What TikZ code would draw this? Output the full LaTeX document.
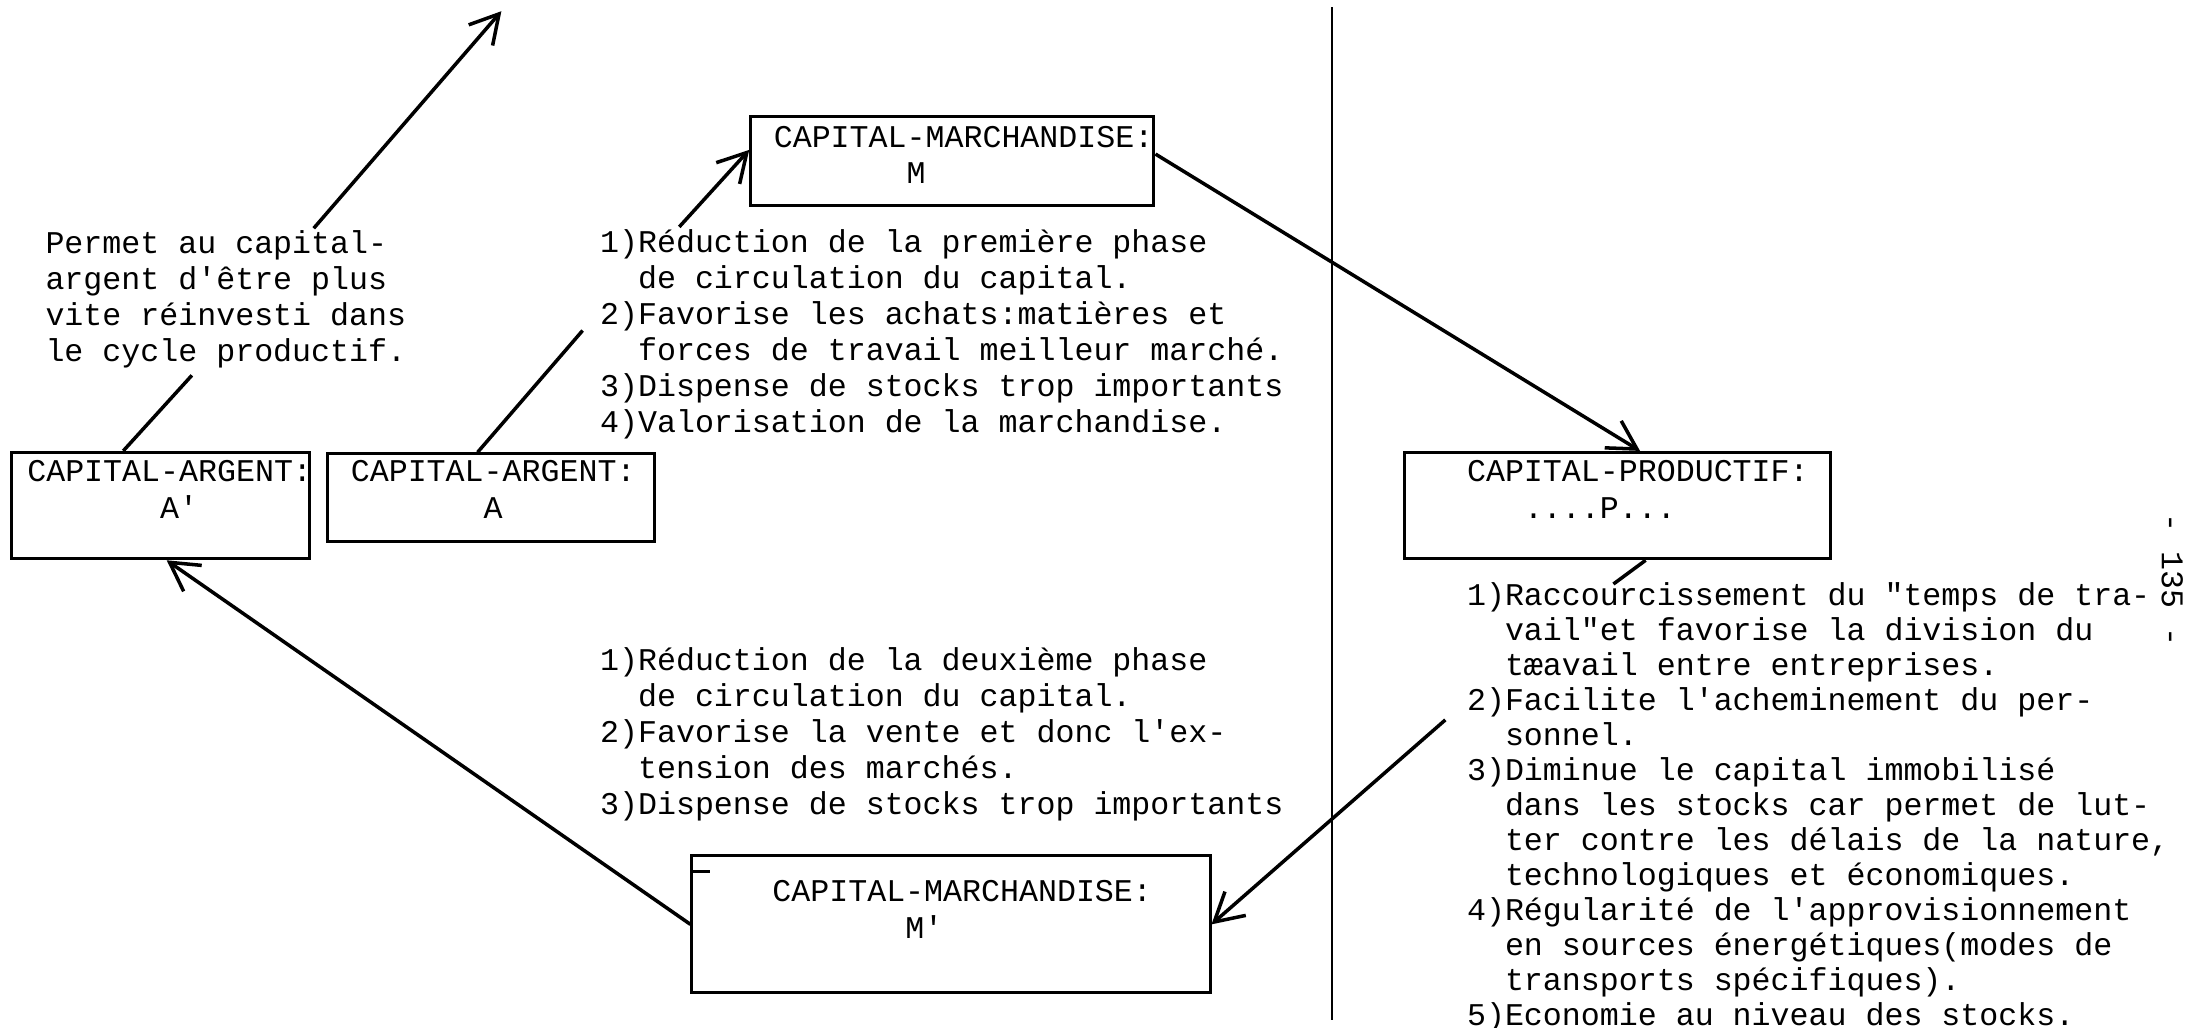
\documentclass[tikz,border=0pt]{standalone}
\usepackage{fontspec}
\setmonofont{Liberation Mono}
\usetikzlibrary{arrows.meta,calc}
\newcommand\blk[1]{\begin{tabular}[t]{@{}l@{}}#1\end{tabular}}
\newcommand\ind{\hphantom{1)}}
\begin{document}
\begin{tikzpicture}[x=0.014005cm,y=-0.014005cm,
  bx/.style={draw,line width=0.85pt,inner sep=0pt},
  txt/.style={inner sep=0pt,anchor=base west,font=\ttfamily\fontsize{9}{10.24}\selectfont},
  txtr/.style={inner sep=0pt,anchor=base west,font=\ttfamily\fontsize{9}{9.98}\selectfont},
  lbl/.style={inner sep=0pt,anchor=base west,font=\ttfamily\fontsize{9}{10.4}\selectfont},
  conn/.style={line width=1pt},
  arr/.style={conn,-{Straight Barb[length=8pt,width=9pt,line width=1pt]}},
]
\useasboundingbox (0,0) rectangle (1568,734);

% boxes
\node[bx,minimum width=2.983cm,minimum height=1.064cm] (Ap) at (114.5,361) {};
\node[bx,minimum width=3.263cm,minimum height=0.882cm] (A) at (350.5,355.5) {};
\node[bx,minimum width=4.033cm,minimum height=0.896cm] (M) at (680,115) {};
\node[bx,minimum width=4.258cm,minimum height=1.064cm] (P) at (1155,361) {};
\node[bx,minimum width=5.182cm,minimum height=1.372cm] (Mp) at (679,660) {};

% box labels
\node[lbl] (Apt) at (19,344) {\blk{CAPITAL-ARGENT:\\\hphantom{0000000}A'}};
\node[lbl] (At) at (250,344) {\blk{CAPITAL-ARGENT:\\\hphantom{0000000}A}};
\node[lbl] (Mt) at (552,105) {\blk{CAPITAL-MARCHANDISE:\\\hphantom{0000000}M}};
\node[lbl] (Pt) at (1047,344) {\blk{CAPITAL-PRODUCTIF:\\\hphantom{000}....P...}};
\node[lbl] (Mpt) at (551,644) {\blk{CAPITAL-MARCHANDISE:\\\hphantom{0000000}M'}};

% text blocks
\node[txt] (perm) at (32,181) {\blk{Permet au capital-\\argent d'être plus\\vite réinvesti dans\\le cycle productif.}};
\node[txt] (up) at (428,180) {\blk{1)Réduction de la première phase\\\ind de circulation du capital.\\2)Favorise les achats:matières et\\\ind forces de travail meilleur marché.\\3)Dispense de stocks trop importants\\4)Valorisation de la marchandise.}};
\node[txt] (low) at (428,479) {\blk{1)Réduction de la deuxième phase\\\ind de circulation du capital.\\2)Favorise la vente et donc l'ex-\\\ind tension des marchés.\\3)Dispense de stocks trop importants}};
\node[txtr] (rt) at (1047,432) {\blk{1)Raccourcissement du "temps de tra-\\\ind vail"et favorise la division du\\\ind tæavail entre entreprises.\\2)Facilite l'acheminement du per-\\\ind sonnel.\\3)Diminue le capital immobilisé\\\ind dans les stocks car permet de lut-\\\ind ter contre les délais de la nature,\\\ind technologiques et économiques.\\4)Régularité de l'approvisionnement\\\ind en sources énergétiques(modes de\\\ind transports spécifiques).\\5)Economie au niveau des stocks.}};

% page number
\node[inner sep=0pt,rotate=-90,font=\ttfamily\fontsize{9}{10}\selectfont] (pg) at (1551,414) {- 135 -};

% separator
\coordinate (vt) at (951,5);
\coordinate (vb) at (951,728);
\draw[line width=0.8pt] (vt) -- (vb);

% free ends
\coordinate (topEnd) at (358,8);
\coordinate (permTop) at (224,163);
\coordinate (permBot) at (137,268);
\coordinate (upA) at (416,236);
\coordinate (upM) at (485,162);
\coordinate (rtP) at (1152,417);
\coordinate (rtM) at (1032,514);

% connectors
\draw[arr] (permTop) -- (topEnd);
\draw[conn] (permBot) -- ($(Ap.north)+(-26.5,0)$);
\draw[conn] ($(A.north)+(-9.5,0)$) -- (upA);
\draw[arr] (upM) -- ($(M.west)+(0,-8)$);
\draw[arr] ($(M.east)+(0,-5)$) -- ($(P.north)+(16,0)$);
\draw[conn] ($(P.south)+(20,0)$) -- (rtP);
\draw[arr] (rtM) -- (Mp.east);
\draw[arr] (Mp.west) -- ($(Ap.south)+(4.5,0)$);

% tick inside M' box
\draw[line width=0.85pt] ($(Mp.north west)+(0,12)$) -- ++(14,0);
\end{tikzpicture}
\end{document}
